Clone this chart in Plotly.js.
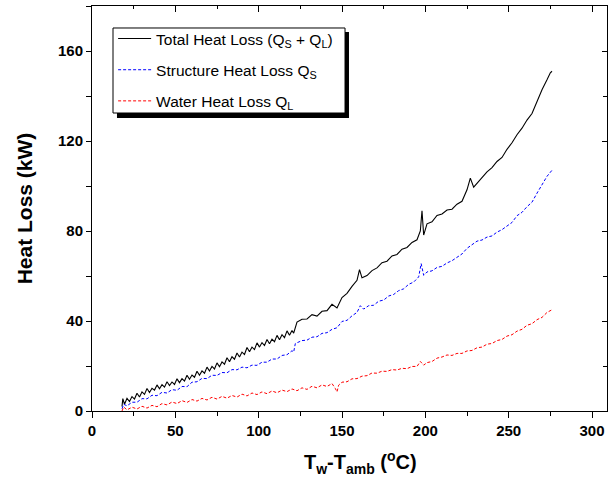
<!DOCTYPE html>
<html>
<head>
<meta charset="utf-8">
<script src="https://cdn.plot.ly/plotly-3.0.1.min.js"></script>
<style>html,body{margin:0;padding:0;background:#fff;}#chart{width:608px;height:479px;}</style>
</head>
<body>
<div id="chart"></div>
<script>
// Total heat loss (Qs + QL)
var totalX = [18,18.5,19.5,21,22.5,24,25.5,27,28.5,30,31.5,33,34.5,36,37.5,39,40.5,42,43.5,45,46.5,48,49.5,51,52.5,54,55.5,57,58.5,60,61.5,63,64.5,66,67.5,69,70.5,72,73.5,75,76.5,78,79.5,81,82.5,84,85.5,87,88.5,90,91.5,93,94.5,96,97.5,99,100.5,102,103.5,105,106.5,108,109.5,111,112.5,114,115.5,117,118.5,120,121,123,126,129,132,135,138,141,144,147,150,153,156,159,160.5,162,165,168,171,174,177,180,183,186,189,192,195,197,198,199,201,204,207,210,213,216,219,222,225,227,229,231,234,237,240,243,246,249,252,255,258,261,264,267,270,273,275,276];
var totalY = [2,5.5,3,5.6,4.2,6.4,5.3,7.9,6.2,8.5,7.4,10,8.2,10.1,9.3,11.6,9.9,11.7,10.6,13,11.3,12.9,11.8,14.3,12.6,14.4,13.3,15.9,14.1,16,15,17.7,15.9,17.8,16.8,19.5,17.8,19.8,18.7,21.4,19.7,21.8,20.8,23.7,21.9,24.1,23,25.8,24,26.2,25.1,28.2,26.3,28.4,27.3,30.3,28.4,30.4,29.1,31.8,29.9,31.9,30.8,33.6,31.7,33.9,32.6,35.6,33.7,35.8,34.6,39.5,40.8,40.9,42.8,42.2,44.3,44.6,47.4,45.8,50.4,52.3,55.4,58.1,62.8,59.2,60.2,62.4,63.6,65.9,66.6,68.9,69.6,71.9,72.7,74.9,76.1,80,89,78.2,83.2,84.1,86.9,87.6,89.3,89.7,91.9,93.2,98.3,103.5,99.5,101.2,103.8,106.3,108.2,110.9,112.7,116.3,119.2,122.8,125.7,129.3,132.2,137.8,142.8,147.2,150.3,151];

// Structure heat loss Qs
var structX = [18,19,21,24,27,30,33,36,39,42,45,48,51,54,57,60,63,66,69,72,75,78,81,84,87,90,93,96,99,102,105,108,111,114,117,120,121,122,126,129,132,135,138,141,144,147,150,153,156,159,161,163,166,169,172,175,178,181,184,187,190,193,196,197.5,199,201,204,207,210,213,216,219,222,225,228,231,234,237,240,243,246,249,252,255,258,261,264,267,270,273,276];
var structY = [1,3,2.3,3.9,3.9,5.5,5.4,7,6.8,8.3,8,9.5,9.2,10.9,10.8,12.8,13,14.5,14.4,15.9,15.8,17.1,17,18.4,18.3,19.5,19.2,20.4,20.3,21.7,21.7,23.1,23.1,24.7,25,26.8,26.2,30,31.3,31.5,32.8,33,34.5,34.8,36.3,37,39.8,40.3,42.3,43.8,46.8,45.3,46.8,47,48.8,49.3,51.1,51.8,53.5,54.3,56.3,57.3,59.6,65.5,60.3,61.8,62.3,63.8,64.3,65.8,66.8,68.3,69.8,72.3,73.8,75.5,76,77.3,77.8,79.5,80.6,82.3,83.8,86.8,88.3,90.8,92.8,96.8,100.3,104.3,107];

// Water heat loss QL
var waterX = [18,19,21,24,27,30,33,36,39,42,45,48,51,54,57,60,63,66,69,72,75,78,81,84,87,90,93,96,99,102,105,108,111,114,117,120,123,126,129,132,135,138,141,144,146,147,148,150,153,156,159,162,165,168,171,174,177,180,183,186,189,192,195,197,199,201,204,207,210,213,216,219,222,225,228,231,234,237,240,243,246,249,252,255,258,261,264,267,270,273,276];
var waterY = [0,1.8,0.5,1.7,0.9,2.1,1.3,2.5,1.9,3.3,2.7,4,3.3,4.6,3.8,5.1,4.4,5.6,4.9,6.1,5.3,6.5,5.7,6.9,6.2,7.5,6.7,8,7.3,8.5,7.7,8.9,8.1,9.3,8.6,9.8,9,10.3,9.6,11,10.3,11.6,10.9,12.2,10,8.5,11.5,12.8,13,14.3,14.4,15.5,15.7,16.9,16.8,17.7,17.6,18.4,18.2,19,18.8,19.8,19.8,22,20.4,21.5,22,23.5,24,24.9,24.7,25.6,25.6,26.7,26.9,28.1,28.4,29.7,30,31.3,31.8,33.3,33.9,35.5,36.3,38.1,38.8,40.6,41.6,43.8,45];

var xTicks = [0,50,100,150,200,250,300];
var yTicks = [0,40,80,120,160];
var names = ['Total Heat Loss (Q<sub>S</sub> + Q<sub>L</sub>)', 'Structure Heat Loss Q<sub>S</sub>', 'Water Heat Loss Q<sub>L</sub>'];
var xTitle = 'T<sub>w</sub>-T<sub>amb</sub> (<sup>o</sup>C)';
var yTitle = 'Heat Loss (kW)';

var traces = [
  {x: totalX, y: totalY, type: 'scatter', mode: 'lines', name: names[0], legendgroup: 'a', line: {color: '#000000', width: 1.1}},
  {x: structX, y: structY, type: 'scatter', mode: 'lines', name: names[1], legendgroup: 'b', line: {color: '#0000ff', width: 1, dash: '3px,2px'}},
  {x: waterX, y: waterY, type: 'scatter', mode: 'lines', name: names[2], legendgroup: 'c', line: {color: '#ff0000', width: 1, dash: '3px,2px'}},
  {x: [0], y: [0], xaxis: 'x2', yaxis: 'y2', type: 'scatter', mode: 'markers', marker: {opacity: 0}, showlegend: false, hoverinfo: 'skip'}
];

var tickFont = {family: 'Liberation Sans Narrow, Arial Narrow, Liberation Sans, Arial', size: 15, color: '#000', weight: 'bold'};

var layout = {
  width: 608, height: 479,
  margin: {l: 92, r: 1, t: 6, b: 68},
  paper_bgcolor: '#fff', plot_bgcolor: '#fff',
  showlegend: true,
  legend: {
    x: 0.041, y: 0.9605, xanchor: 'left', yanchor: 'top',
    bgcolor: 'rgba(0,0,0,0)', borderwidth: 0,
    font: {family: 'Liberation Sans, Arial', size: 15.5, color: '#000'},
    tracegroupgap: 8, itemwidth: 33
  },
  xaxis: {
    range: [0, 309], tickvals: xTicks, ticktext: xTicks.map(String),
    ticks: 'outside', ticklen: 6, tickwidth: 1, tickcolor: '#000',
    minor: {dtick: 25, tick0: 0, ticks: 'outside', ticklen: 4, tickcolor: '#000'},
    showline: true, linecolor: '#000', linewidth: 1, showgrid: false, zeroline: false,
    tickfont: tickFont
  },
  yaxis: {
    range: [0, 180], tickvals: yTicks, ticktext: yTicks.map(String),
    ticks: 'outside', ticklen: 5, tickwidth: 1, tickcolor: '#000',
    minor: {dtick: 20, tick0: 0, ticks: 'outside', ticklen: 5, tickcolor: '#000'},
    showline: true, linecolor: '#000', linewidth: 1, showgrid: false, zeroline: false,
    tickfont: tickFont,
    title: {text: yTitle, font: {family: 'Liberation Sans, Arial', size: 21, color: '#000', weight: 'bold'}, standoff: 19}
  },
  xaxis2: {
    overlaying: 'x', side: 'top', range: [0, 309], tickvals: xTicks, showticklabels: false,
    ticks: 'inside', ticklen: 6, tickcolor: '#000',
    minor: {dtick: 25, tick0: 0, ticks: 'inside', ticklen: 3, tickcolor: '#000'},
    showline: true, linecolor: '#000', linewidth: 1, showgrid: false, zeroline: false
  },
  yaxis2: {
    overlaying: 'y', side: 'right', range: [0, 180], tickvals: yTicks, showticklabels: false,
    ticks: 'inside', ticklen: 5, tickcolor: '#000',
    minor: {dtick: 20, tick0: 0, ticks: 'inside', ticklen: 4, tickcolor: '#000'},
    showline: true, linecolor: '#000', linewidth: 1, showgrid: false, zeroline: false
  },
  annotations: [
    {text: xTitle, xref: 'paper', yref: 'paper', x: 0.5204, y: -0.127, xanchor: 'center', yanchor: 'middle', showarrow: false,
     font: {family: 'Liberation Sans, Arial', size: 20, color: '#000', weight: 'bold'}}
  ],
  shapes: [
    {type: 'rect', xref: 'paper', yref: 'paper', x0: 0.0485, x1: 0.499, y0: 0.7235, y1: 0.936, fillcolor: '#000', line: {width: 0}, layer: 'above'},
    {type: 'rect', xref: 'paper', yref: 'paper', x0: 0.0408, x1: 0.4913, y0: 0.7358, y1: 0.9457, fillcolor: '#fff', line: {color: '#000', width: 1}, layer: 'above'}
  ]
};

Plotly.newPlot('chart', traces, layout, {displayModeBar: false, staticPlot: true});
</script>
</body>
</html>
